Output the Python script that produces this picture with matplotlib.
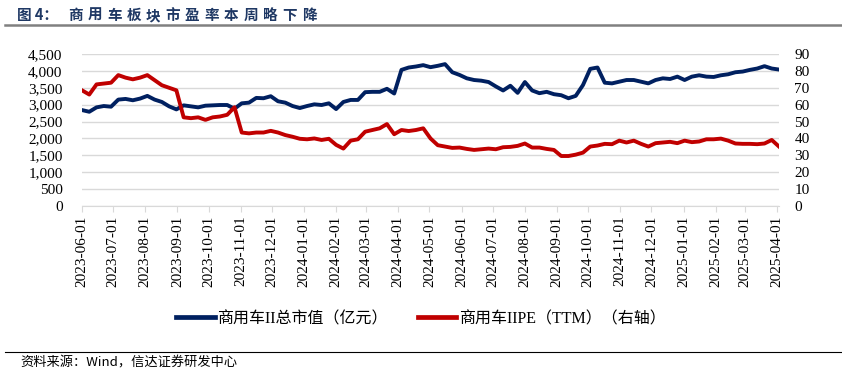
import matplotlib
matplotlib.use("Agg")
import matplotlib.pyplot as plt
import matplotlib.dates as mdates
from matplotlib.lines import Line2D
from matplotlib.ticker import FuncFormatter, MultipleLocator
import pandas as pd

# weekly readings
dates = pd.date_range("2023-06-01", periods=97, freq="7D")

mkt_cap = [2840, 2790, 2920, 2960, 2940, 3150, 3170, 3130, 3180, 3260,
           3150, 3080, 2950, 2860, 2980, 2950, 2920, 2970, 2980, 2990,
           2990, 2880, 3040, 3060, 3200, 3190, 3250, 3100, 3060, 2960,
           2900, 2960, 3010, 2990, 3040, 2870, 3080, 3140, 3140, 3370,
           3380, 3380, 3470, 3330, 4030, 4100, 4130, 4170, 4110, 4150,
           4200, 3960, 3880, 3780, 3730, 3710, 3670, 3540, 3420, 3560,
           3350, 3670, 3420, 3340, 3380, 3310, 3280, 3190, 3260, 3580,
           4060, 4100, 3650, 3630, 3680, 3730, 3730, 3680, 3630, 3730,
           3780, 3760, 3830, 3730, 3830, 3870, 3830, 3820, 3870, 3900,
           3960, 3980, 4030, 4070, 4140, 4070, 4040]

pe_ttm = [68.5, 66.0, 72.0, 72.5, 73.0, 77.5, 76.0, 75.0, 76.0, 77.5,
          74.5, 71.5, 70.0, 68.5, 52.5, 52.0, 52.5, 51.0, 52.5, 53.0,
          54.0, 58.5, 43.5, 43.0, 43.5, 43.5, 44.5, 43.5, 42.0, 41.0,
          39.8, 39.5, 40.0, 39.1, 39.8, 36.2, 34.0, 38.7, 39.5, 44.0,
          45.0, 46.0, 48.5, 42.5, 45.0, 44.4, 45.0, 46.0, 40.0, 36.0,
          35.2, 34.4, 34.6, 33.8, 33.2, 33.6, 34.0, 33.6, 34.8, 35.0,
          35.6, 37.0, 34.6, 34.6, 33.8, 33.2, 29.6, 29.6, 30.4, 31.6,
          35.2, 35.8, 36.8, 36.6, 38.7, 37.6, 38.7, 36.8, 35.2, 37.2,
          37.6, 38.0, 37.2, 38.7, 37.8, 38.2, 39.5, 39.5, 39.9, 38.7,
          37.0, 36.8, 36.8, 36.6, 37.0, 39.1, 35.2]

title_head = "图 4："
title_body = "商用车板块市盈率本周略下降"
label_cap = "商用车II总市值（亿元）"
label_pe = "商用车IIPE（TTM）（右轴）"
source = "资料来源：Wind，信达证券研发中心"

BLUE = "#002060"
RED = "#C00000"
GRID = "#D9D9D9"
SERIF = "Liberation Serif"
plt.rcParams["font.family"] = [SERIF, "Noto Sans CJK SC"]

fig = plt.figure(figsize=(8.42, 3.77), dpi=100)
W, H = 842, 377
ax = fig.add_axes([82 / W, 1 - 206 / H, 697 / W, 152 / H])
ax2 = ax.twinx()

ax.plot(dates, mkt_cap, color=BLUE, lw=2.8, solid_joinstyle="round")
ax2.plot(dates, pe_ttm, color=RED, lw=2.8, solid_joinstyle="round")

ax.set_xlim(pd.Timestamp("2023-06-01"), pd.Timestamp("2025-04-03"))
ax.set_ylim(0, 4500)
ax2.set_ylim(0, 90)
ax.yaxis.set_major_locator(MultipleLocator(500))
ax2.yaxis.set_major_locator(MultipleLocator(10))
ax.yaxis.set_major_formatter(FuncFormatter(lambda v, p: f"{int(v):,}"))

ax.xaxis.set_major_locator(mdates.MonthLocator())
ax.xaxis.set_major_formatter(mdates.DateFormatter("%Y-%m-%d"))

ax.grid(axis="y", color=GRID, lw=1)
ax.set_axisbelow(True)
for a in (ax, ax2):
    for s in a.spines.values():
        s.set_visible(False)
ax.spines["bottom"].set_visible(True)
ax.spines["bottom"].set_color(GRID)

ax.tick_params(axis="x", length=4, color=GRID, pad=3, labelrotation=90,
               labelsize=11, labelfontfamily=SERIF)
ax.tick_params(axis="y", length=0, pad=14, labelsize=11, labelfontfamily=SERIF)
ax2.tick_params(axis="y", length=0, pad=11, labelsize=11, labelfontfamily=SERIF)

# title: head, then the body with wide character spacing
cjk = "Noto Sans CJK SC"
fig.text(17 / W, 1 - 15 / H, title_head, fontsize=10.5, fontweight="bold",
         color="#1F3864", family=cjk, va="center", ha="left")
for i, ch in enumerate(title_body):
    fig.text((68 + i * 19.5) / W, 1 - 15 / H, ch, fontsize=10.5,
             fontweight="bold", color="#1F3864", family=cjk,
             va="center", ha="left")
fig.add_artist(Line2D([5 / W, 1], [1 - 25 / H] * 2, color="#808080", lw=1.8))

handles = [Line2D([], [], color=BLUE, lw=3.4), Line2D([], [], color=RED, lw=3.4)]
fig.legend(handles, [label_cap, label_pe], loc="center",
           bbox_to_anchor=(0.5, 1 - 319 / H), ncol=2, frameon=False,
           handlelength=2.4, handletextpad=0.15, columnspacing=1.9,
           prop={"size": 11.5})

fig.add_artist(Line2D([5 / W, 1], [1 - 352 / H] * 2, color="black", lw=0.8))
fig.text(20 / W, 1 - 363 / H, source, fontsize=9.5, style="italic",
         family=[cjk, "DejaVu Sans"], va="center", ha="left")

fig.savefig("out.png", dpi=100)
